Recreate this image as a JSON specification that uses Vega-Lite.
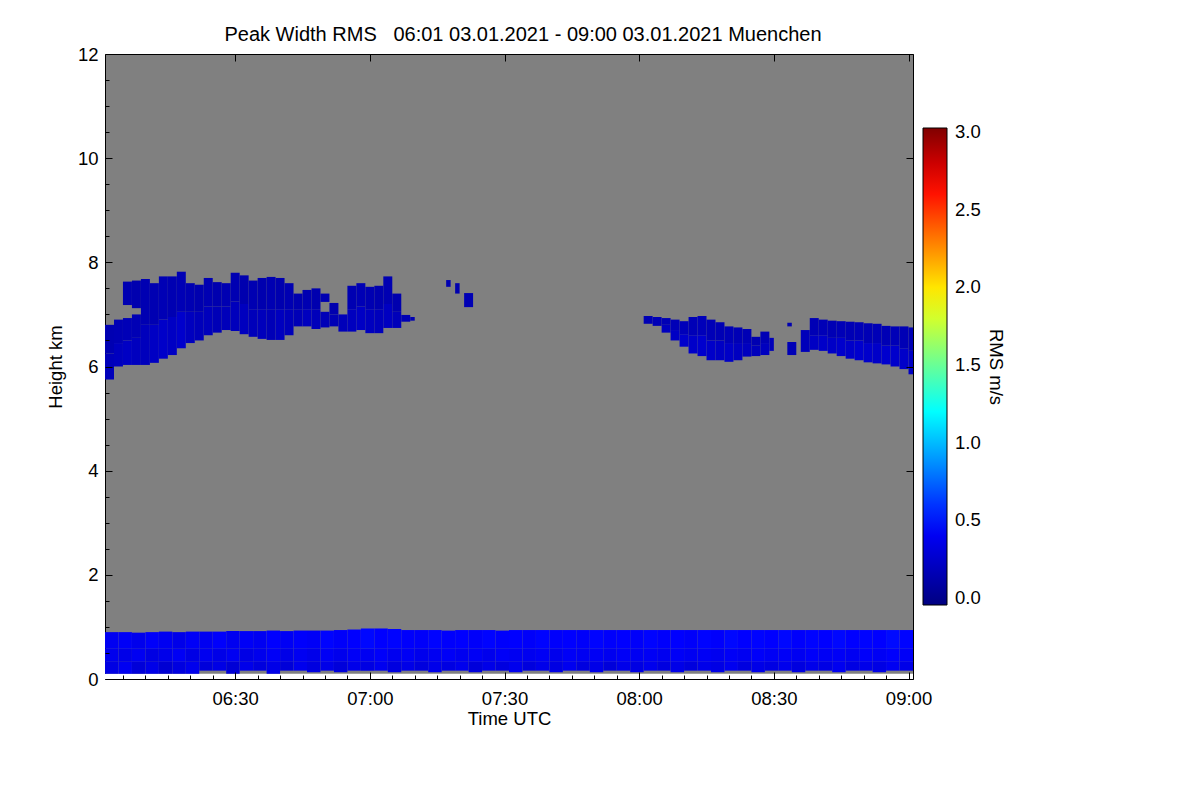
{
  "$schema": "https://vega.github.io/schema/vega-lite/v6.json",
  "autosize": "none",
  "width": 808,
  "height": 625,
  "padding": {"left": 105, "top": 54, "right": 287, "bottom": 121},
  "background": "white",
  "title": {
    "text": "Peak Width RMS\u00a0\u00a0 06:01 03.01.2021 - 09:00 03.01.2021 Muenchen",
    "fontSize": 20, "fontWeight": "normal", "color": "black", "offset": 0, "dx": 14
  },
  "layer": [
    {
      "data": {"values": [{"t": "2021-01-03T06:01Z", "t2": "2021-01-03T09:01Z", "h": 0, "h2": 0.1}]},
      "mark": {"type": "rect", "color": "white"},
      "encoding": {
        "x": {"field": "t", "type": "temporal",
          "scale": {"type": "utc", "domain": [{"year": 2021, "month": 1, "date": 3, "hours": 6, "minutes": 1, "utc": true}, {"year": 2021, "month": 1, "date": 3, "hours": 9, "minutes": 1, "utc": true}]},
          "axis": {"orient": "bottom", "labels": false, "title": null, "grid": false, "domain": false, "tickSize": -4, "zindex": 1,
            "values": [
              {"year":2021,"month":1,"date":3,"hours":6,"minutes":5,"utc":true},{"year":2021,"month":1,"date":3,"hours":6,"minutes":10,"utc":true},{"year":2021,"month":1,"date":3,"hours":6,"minutes":15,"utc":true},{"year":2021,"month":1,"date":3,"hours":6,"minutes":20,"utc":true},{"year":2021,"month":1,"date":3,"hours":6,"minutes":25,"utc":true},{"year":2021,"month":1,"date":3,"hours":6,"minutes":35,"utc":true},{"year":2021,"month":1,"date":3,"hours":6,"minutes":40,"utc":true},{"year":2021,"month":1,"date":3,"hours":6,"minutes":45,"utc":true},{"year":2021,"month":1,"date":3,"hours":6,"minutes":50,"utc":true},{"year":2021,"month":1,"date":3,"hours":6,"minutes":55,"utc":true},
              {"year":2021,"month":1,"date":3,"hours":7,"minutes":5,"utc":true},{"year":2021,"month":1,"date":3,"hours":7,"minutes":10,"utc":true},{"year":2021,"month":1,"date":3,"hours":7,"minutes":15,"utc":true},{"year":2021,"month":1,"date":3,"hours":7,"minutes":20,"utc":true},{"year":2021,"month":1,"date":3,"hours":7,"minutes":25,"utc":true},{"year":2021,"month":1,"date":3,"hours":7,"minutes":35,"utc":true},{"year":2021,"month":1,"date":3,"hours":7,"minutes":40,"utc":true},{"year":2021,"month":1,"date":3,"hours":7,"minutes":45,"utc":true},{"year":2021,"month":1,"date":3,"hours":7,"minutes":50,"utc":true},{"year":2021,"month":1,"date":3,"hours":7,"minutes":55,"utc":true},
              {"year":2021,"month":1,"date":3,"hours":8,"minutes":5,"utc":true},{"year":2021,"month":1,"date":3,"hours":8,"minutes":10,"utc":true},{"year":2021,"month":1,"date":3,"hours":8,"minutes":15,"utc":true},{"year":2021,"month":1,"date":3,"hours":8,"minutes":20,"utc":true},{"year":2021,"month":1,"date":3,"hours":8,"minutes":25,"utc":true},{"year":2021,"month":1,"date":3,"hours":8,"minutes":35,"utc":true},{"year":2021,"month":1,"date":3,"hours":8,"minutes":40,"utc":true},{"year":2021,"month":1,"date":3,"hours":8,"minutes":45,"utc":true},{"year":2021,"month":1,"date":3,"hours":8,"minutes":50,"utc":true},{"year":2021,"month":1,"date":3,"hours":8,"minutes":55,"utc":true}
            ]}},
        "x2": {"field": "t2"},
        "y": {"field": "h", "type": "quantitative", "scale": {"domain": [0, 12], "nice": false, "zero": false},
          "axis": {"orient": "left", "labels": false, "title": null, "grid": false, "domain": false, "tickSize": -4, "zindex": 1,
            "values": [0.5, 1, 1.5, 2.5, 3, 3.5, 4.5, 5, 5.5, 6.5, 7, 7.5, 8.5, 9, 9.5, 10.5, 11, 11.5]}},
        "y2": {"field": "h2"}
      }
    },
    {
      "data": {"values": [
        {"t":"2021-01-03T06:01Z","t2":"2021-01-03T06:04Z","h":0.1,"h2":0.33,"v":0.34},{"t":"2021-01-03T06:01Z","t2":"2021-01-03T06:04Z","h":0.33,"h2":0.58,"v":0.38},{"t":"2021-01-03T06:01Z","t2":"2021-01-03T06:04Z","h":0.58,"h2":0.9,"v":0.4},
        {"t":"2021-01-03T06:04Z","t2":"2021-01-03T06:07Z","h":0.1,"h2":0.33,"v":0.4},{"t":"2021-01-03T06:04Z","t2":"2021-01-03T06:07Z","h":0.33,"h2":0.58,"v":0.36},{"t":"2021-01-03T06:04Z","t2":"2021-01-03T06:07Z","h":0.58,"h2":0.9,"v":0.42},
        {"t":"2021-01-03T06:07Z","t2":"2021-01-03T06:10Z","h":0.1,"h2":0.33,"v":0.3},{"t":"2021-01-03T06:07Z","t2":"2021-01-03T06:10Z","h":0.33,"h2":0.58,"v":0.4},{"t":"2021-01-03T06:07Z","t2":"2021-01-03T06:10Z","h":0.58,"h2":0.89,"v":0.38},
        {"t":"2021-01-03T06:10Z","t2":"2021-01-03T06:13Z","h":0.1,"h2":0.33,"v":0.36},{"t":"2021-01-03T06:10Z","t2":"2021-01-03T06:13Z","h":0.33,"h2":0.58,"v":0.34},{"t":"2021-01-03T06:10Z","t2":"2021-01-03T06:13Z","h":0.58,"h2":0.9,"v":0.43},
        {"t":"2021-01-03T06:13Z","t2":"2021-01-03T06:16Z","h":0.1,"h2":0.33,"v":0.28},{"t":"2021-01-03T06:13Z","t2":"2021-01-03T06:16Z","h":0.33,"h2":0.58,"v":0.37},{"t":"2021-01-03T06:13Z","t2":"2021-01-03T06:16Z","h":0.58,"h2":0.91,"v":0.4},
        {"t":"2021-01-03T06:16Z","t2":"2021-01-03T06:19Z","h":0.1,"h2":0.33,"v":0.33},{"t":"2021-01-03T06:16Z","t2":"2021-01-03T06:19Z","h":0.33,"h2":0.58,"v":0.41},{"t":"2021-01-03T06:16Z","t2":"2021-01-03T06:19Z","h":0.58,"h2":0.9,"v":0.37},
        {"t":"2021-01-03T06:19Z","t2":"2021-01-03T06:22Z","h":0.1,"h2":0.33,"v":0.38},{"t":"2021-01-03T06:19Z","t2":"2021-01-03T06:22Z","h":0.33,"h2":0.58,"v":0.35},{"t":"2021-01-03T06:19Z","t2":"2021-01-03T06:22Z","h":0.58,"h2":0.91,"v":0.42},
        {"t":"2021-01-03T06:22Z","t2":"2021-01-03T06:25Z","h":0.16,"h2":0.33,"v":0.31},{"t":"2021-01-03T06:22Z","t2":"2021-01-03T06:25Z","h":0.33,"h2":0.58,"v":0.39},{"t":"2021-01-03T06:22Z","t2":"2021-01-03T06:25Z","h":0.58,"h2":0.91,"v":0.4},
        {"t":"2021-01-03T06:25Z","t2":"2021-01-03T06:28Z","h":0.16,"h2":0.33,"v":0.35},{"t":"2021-01-03T06:25Z","t2":"2021-01-03T06:28Z","h":0.33,"h2":0.58,"v":0.36},{"t":"2021-01-03T06:25Z","t2":"2021-01-03T06:28Z","h":0.58,"h2":0.91,"v":0.44},
        {"t":"2021-01-03T06:28Z","t2":"2021-01-03T06:31Z","h":0.1,"h2":0.33,"v":0.29},{"t":"2021-01-03T06:28Z","t2":"2021-01-03T06:31Z","h":0.33,"h2":0.58,"v":0.4},{"t":"2021-01-03T06:28Z","t2":"2021-01-03T06:31Z","h":0.58,"h2":0.92,"v":0.39},
        {"t":"2021-01-03T06:31Z","t2":"2021-01-03T06:34Z","h":0.16,"h2":0.33,"v":0.37},{"t":"2021-01-03T06:31Z","t2":"2021-01-03T06:34Z","h":0.33,"h2":0.58,"v":0.35},{"t":"2021-01-03T06:31Z","t2":"2021-01-03T06:34Z","h":0.58,"h2":0.92,"v":0.42},
        {"t":"2021-01-03T06:34Z","t2":"2021-01-03T06:37Z","h":0.16,"h2":0.33,"v":0.32},{"t":"2021-01-03T06:34Z","t2":"2021-01-03T06:37Z","h":0.33,"h2":0.58,"v":0.38},{"t":"2021-01-03T06:34Z","t2":"2021-01-03T06:37Z","h":0.58,"h2":0.92,"v":0.4},
        {"t":"2021-01-03T06:37Z","t2":"2021-01-03T06:40Z","h":0.1,"h2":0.33,"v":0.36},{"t":"2021-01-03T06:37Z","t2":"2021-01-03T06:40Z","h":0.33,"h2":0.58,"v":0.42},{"t":"2021-01-03T06:37Z","t2":"2021-01-03T06:40Z","h":0.58,"h2":0.93,"v":0.45},
        {"t":"2021-01-03T06:40Z","t2":"2021-01-03T06:43Z","h":0.16,"h2":0.33,"v":0.3},{"t":"2021-01-03T06:40Z","t2":"2021-01-03T06:43Z","h":0.33,"h2":0.58,"v":0.36},{"t":"2021-01-03T06:40Z","t2":"2021-01-03T06:43Z","h":0.58,"h2":0.92,"v":0.41},
        {"t":"2021-01-03T06:43Z","t2":"2021-01-03T06:46Z","h":0.16,"h2":0.33,"v":0.38},{"t":"2021-01-03T06:43Z","t2":"2021-01-03T06:46Z","h":0.33,"h2":0.58,"v":0.4},{"t":"2021-01-03T06:43Z","t2":"2021-01-03T06:46Z","h":0.58,"h2":0.93,"v":0.44},
        {"t":"2021-01-03T06:46Z","t2":"2021-01-03T06:49Z","h":0.13,"h2":0.33,"v":0.33},{"t":"2021-01-03T06:46Z","t2":"2021-01-03T06:49Z","h":0.33,"h2":0.58,"v":0.37},{"t":"2021-01-03T06:46Z","t2":"2021-01-03T06:49Z","h":0.58,"h2":0.93,"v":0.42},
        {"t":"2021-01-03T06:49Z","t2":"2021-01-03T06:52Z","h":0.16,"h2":0.33,"v":0.36},{"t":"2021-01-03T06:49Z","t2":"2021-01-03T06:52Z","h":0.33,"h2":0.58,"v":0.41},{"t":"2021-01-03T06:49Z","t2":"2021-01-03T06:52Z","h":0.58,"h2":0.93,"v":0.46},
        {"t":"2021-01-03T06:52Z","t2":"2021-01-03T06:55Z","h":0.13,"h2":0.33,"v":0.31},{"t":"2021-01-03T06:52Z","t2":"2021-01-03T06:55Z","h":0.33,"h2":0.58,"v":0.38},{"t":"2021-01-03T06:52Z","t2":"2021-01-03T06:55Z","h":0.58,"h2":0.94,"v":0.43},
        {"t":"2021-01-03T06:55Z","t2":"2021-01-03T06:58Z","h":0.16,"h2":0.33,"v":0.37},{"t":"2021-01-03T06:55Z","t2":"2021-01-03T06:58Z","h":0.33,"h2":0.58,"v":0.42},{"t":"2021-01-03T06:55Z","t2":"2021-01-03T06:58Z","h":0.58,"h2":0.95,"v":0.45},
        {"t":"2021-01-03T06:58Z","t2":"2021-01-03T07:01Z","h":0.16,"h2":0.33,"v":0.34},{"t":"2021-01-03T06:58Z","t2":"2021-01-03T07:01Z","h":0.33,"h2":0.58,"v":0.4},{"t":"2021-01-03T06:58Z","t2":"2021-01-03T07:01Z","h":0.58,"h2":0.97,"v":0.47},
        {"t":"2021-01-03T07:01Z","t2":"2021-01-03T07:04Z","h":0.16,"h2":0.33,"v":0.39},{"t":"2021-01-03T07:01Z","t2":"2021-01-03T07:04Z","h":0.33,"h2":0.58,"v":0.43},{"t":"2021-01-03T07:01Z","t2":"2021-01-03T07:04Z","h":0.58,"h2":0.97,"v":0.45},
        {"t":"2021-01-03T07:04Z","t2":"2021-01-03T07:07Z","h":0.13,"h2":0.33,"v":0.33},{"t":"2021-01-03T07:04Z","t2":"2021-01-03T07:07Z","h":0.33,"h2":0.58,"v":0.39},{"t":"2021-01-03T07:04Z","t2":"2021-01-03T07:07Z","h":0.58,"h2":0.96,"v":0.46},
        {"t":"2021-01-03T07:07Z","t2":"2021-01-03T07:10Z","h":0.16,"h2":0.33,"v":0.36},{"t":"2021-01-03T07:07Z","t2":"2021-01-03T07:10Z","h":0.33,"h2":0.58,"v":0.41},{"t":"2021-01-03T07:07Z","t2":"2021-01-03T07:10Z","h":0.58,"h2":0.94,"v":0.44},
        {"t":"2021-01-03T07:10Z","t2":"2021-01-03T07:13Z","h":0.16,"h2":0.33,"v":0.32},{"t":"2021-01-03T07:10Z","t2":"2021-01-03T07:13Z","h":0.33,"h2":0.58,"v":0.38},{"t":"2021-01-03T07:10Z","t2":"2021-01-03T07:13Z","h":0.58,"h2":0.94,"v":0.43},
        {"t":"2021-01-03T07:13Z","t2":"2021-01-03T07:16Z","h":0.13,"h2":0.33,"v":0.37},{"t":"2021-01-03T07:13Z","t2":"2021-01-03T07:16Z","h":0.33,"h2":0.58,"v":0.4},{"t":"2021-01-03T07:13Z","t2":"2021-01-03T07:16Z","h":0.58,"h2":0.94,"v":0.46},
        {"t":"2021-01-03T07:16Z","t2":"2021-01-03T07:19Z","h":0.16,"h2":0.33,"v":0.34},{"t":"2021-01-03T07:16Z","t2":"2021-01-03T07:19Z","h":0.33,"h2":0.58,"v":0.42},{"t":"2021-01-03T07:16Z","t2":"2021-01-03T07:19Z","h":0.58,"h2":0.93,"v":0.44},
        {"t":"2021-01-03T07:19Z","t2":"2021-01-03T07:22Z","h":0.16,"h2":0.33,"v":0.38},{"t":"2021-01-03T07:19Z","t2":"2021-01-03T07:22Z","h":0.33,"h2":0.58,"v":0.39},{"t":"2021-01-03T07:19Z","t2":"2021-01-03T07:22Z","h":0.58,"h2":0.94,"v":0.45},
        {"t":"2021-01-03T07:22Z","t2":"2021-01-03T07:25Z","h":0.13,"h2":0.33,"v":0.31},{"t":"2021-01-03T07:22Z","t2":"2021-01-03T07:25Z","h":0.33,"h2":0.58,"v":0.41},{"t":"2021-01-03T07:22Z","t2":"2021-01-03T07:25Z","h":0.58,"h2":0.94,"v":0.43},
        {"t":"2021-01-03T07:25Z","t2":"2021-01-03T07:28Z","h":0.16,"h2":0.33,"v":0.36},{"t":"2021-01-03T07:25Z","t2":"2021-01-03T07:28Z","h":0.33,"h2":0.58,"v":0.38},{"t":"2021-01-03T07:25Z","t2":"2021-01-03T07:28Z","h":0.58,"h2":0.94,"v":0.46},
        {"t":"2021-01-03T07:28Z","t2":"2021-01-03T07:31Z","h":0.16,"h2":0.33,"v":0.33},{"t":"2021-01-03T07:28Z","t2":"2021-01-03T07:31Z","h":0.33,"h2":0.58,"v":0.42},{"t":"2021-01-03T07:28Z","t2":"2021-01-03T07:31Z","h":0.58,"h2":0.93,"v":0.44},
        {"t":"2021-01-03T07:31Z","t2":"2021-01-03T07:34Z","h":0.13,"h2":0.33,"v":0.38},{"t":"2021-01-03T07:31Z","t2":"2021-01-03T07:34Z","h":0.33,"h2":0.58,"v":0.4},{"t":"2021-01-03T07:31Z","t2":"2021-01-03T07:34Z","h":0.58,"h2":0.94,"v":0.45},
        {"t":"2021-01-03T07:34Z","t2":"2021-01-03T07:37Z","h":0.16,"h2":0.33,"v":0.32},{"t":"2021-01-03T07:34Z","t2":"2021-01-03T07:37Z","h":0.33,"h2":0.58,"v":0.39},{"t":"2021-01-03T07:34Z","t2":"2021-01-03T07:37Z","h":0.58,"h2":0.94,"v":0.43},
        {"t":"2021-01-03T07:37Z","t2":"2021-01-03T07:40Z","h":0.16,"h2":0.33,"v":0.37},{"t":"2021-01-03T07:37Z","t2":"2021-01-03T07:40Z","h":0.33,"h2":0.58,"v":0.41},{"t":"2021-01-03T07:37Z","t2":"2021-01-03T07:40Z","h":0.58,"h2":0.94,"v":0.46},
        {"t":"2021-01-03T07:40Z","t2":"2021-01-03T07:43Z","h":0.13,"h2":0.33,"v":0.34},{"t":"2021-01-03T07:40Z","t2":"2021-01-03T07:43Z","h":0.33,"h2":0.58,"v":0.38},{"t":"2021-01-03T07:40Z","t2":"2021-01-03T07:43Z","h":0.58,"h2":0.94,"v":0.44},
        {"t":"2021-01-03T07:43Z","t2":"2021-01-03T07:46Z","h":0.16,"h2":0.33,"v":0.39},{"t":"2021-01-03T07:43Z","t2":"2021-01-03T07:46Z","h":0.33,"h2":0.58,"v":0.42},{"t":"2021-01-03T07:43Z","t2":"2021-01-03T07:46Z","h":0.58,"h2":0.94,"v":0.45},
        {"t":"2021-01-03T07:46Z","t2":"2021-01-03T07:49Z","h":0.16,"h2":0.33,"v":0.33},{"t":"2021-01-03T07:46Z","t2":"2021-01-03T07:49Z","h":0.33,"h2":0.58,"v":0.4},{"t":"2021-01-03T07:46Z","t2":"2021-01-03T07:49Z","h":0.58,"h2":0.94,"v":0.43},
        {"t":"2021-01-03T07:49Z","t2":"2021-01-03T07:52Z","h":0.13,"h2":0.33,"v":0.36},{"t":"2021-01-03T07:49Z","t2":"2021-01-03T07:52Z","h":0.33,"h2":0.58,"v":0.41},{"t":"2021-01-03T07:49Z","t2":"2021-01-03T07:52Z","h":0.58,"h2":0.94,"v":0.46},
        {"t":"2021-01-03T07:52Z","t2":"2021-01-03T07:55Z","h":0.16,"h2":0.33,"v":0.31},{"t":"2021-01-03T07:52Z","t2":"2021-01-03T07:55Z","h":0.33,"h2":0.58,"v":0.39},{"t":"2021-01-03T07:52Z","t2":"2021-01-03T07:55Z","h":0.58,"h2":0.94,"v":0.44},
        {"t":"2021-01-03T07:55Z","t2":"2021-01-03T07:58Z","h":0.16,"h2":0.33,"v":0.37},{"t":"2021-01-03T07:55Z","t2":"2021-01-03T07:58Z","h":0.33,"h2":0.58,"v":0.42},{"t":"2021-01-03T07:55Z","t2":"2021-01-03T07:58Z","h":0.58,"h2":0.94,"v":0.45},
        {"t":"2021-01-03T07:58Z","t2":"2021-01-03T08:01Z","h":0.13,"h2":0.33,"v":0.34},{"t":"2021-01-03T07:58Z","t2":"2021-01-03T08:01Z","h":0.33,"h2":0.58,"v":0.4},{"t":"2021-01-03T07:58Z","t2":"2021-01-03T08:01Z","h":0.58,"h2":0.94,"v":0.43},
        {"t":"2021-01-03T08:01Z","t2":"2021-01-03T08:04Z","h":0.16,"h2":0.33,"v":0.38},{"t":"2021-01-03T08:01Z","t2":"2021-01-03T08:04Z","h":0.33,"h2":0.58,"v":0.41},{"t":"2021-01-03T08:01Z","t2":"2021-01-03T08:04Z","h":0.58,"h2":0.94,"v":0.46},
        {"t":"2021-01-03T08:04Z","t2":"2021-01-03T08:07Z","h":0.16,"h2":0.33,"v":0.33},{"t":"2021-01-03T08:04Z","t2":"2021-01-03T08:07Z","h":0.33,"h2":0.58,"v":0.39},{"t":"2021-01-03T08:04Z","t2":"2021-01-03T08:07Z","h":0.58,"h2":0.94,"v":0.44},
        {"t":"2021-01-03T08:07Z","t2":"2021-01-03T08:10Z","h":0.13,"h2":0.33,"v":0.36},{"t":"2021-01-03T08:07Z","t2":"2021-01-03T08:10Z","h":0.33,"h2":0.58,"v":0.42},{"t":"2021-01-03T08:07Z","t2":"2021-01-03T08:10Z","h":0.58,"h2":0.94,"v":0.45},
        {"t":"2021-01-03T08:10Z","t2":"2021-01-03T08:13Z","h":0.16,"h2":0.33,"v":0.32},{"t":"2021-01-03T08:10Z","t2":"2021-01-03T08:13Z","h":0.33,"h2":0.58,"v":0.4},{"t":"2021-01-03T08:10Z","t2":"2021-01-03T08:13Z","h":0.58,"h2":0.94,"v":0.43},
        {"t":"2021-01-03T08:13Z","t2":"2021-01-03T08:16Z","h":0.16,"h2":0.33,"v":0.37},{"t":"2021-01-03T08:13Z","t2":"2021-01-03T08:16Z","h":0.33,"h2":0.58,"v":0.41},{"t":"2021-01-03T08:13Z","t2":"2021-01-03T08:16Z","h":0.58,"h2":0.94,"v":0.46},
        {"t":"2021-01-03T08:16Z","t2":"2021-01-03T08:19Z","h":0.13,"h2":0.33,"v":0.35},{"t":"2021-01-03T08:16Z","t2":"2021-01-03T08:19Z","h":0.33,"h2":0.58,"v":0.39},{"t":"2021-01-03T08:16Z","t2":"2021-01-03T08:19Z","h":0.58,"h2":0.94,"v":0.44},
        {"t":"2021-01-03T08:19Z","t2":"2021-01-03T08:22Z","h":0.16,"h2":0.33,"v":0.39},{"t":"2021-01-03T08:19Z","t2":"2021-01-03T08:22Z","h":0.33,"h2":0.58,"v":0.42},{"t":"2021-01-03T08:19Z","t2":"2021-01-03T08:22Z","h":0.58,"h2":0.94,"v":0.47},
        {"t":"2021-01-03T08:22Z","t2":"2021-01-03T08:25Z","h":0.16,"h2":0.33,"v":0.33},{"t":"2021-01-03T08:22Z","t2":"2021-01-03T08:25Z","h":0.33,"h2":0.58,"v":0.4},{"t":"2021-01-03T08:22Z","t2":"2021-01-03T08:25Z","h":0.58,"h2":0.94,"v":0.45},
        {"t":"2021-01-03T08:25Z","t2":"2021-01-03T08:28Z","h":0.13,"h2":0.33,"v":0.36},{"t":"2021-01-03T08:25Z","t2":"2021-01-03T08:28Z","h":0.33,"h2":0.58,"v":0.43},{"t":"2021-01-03T08:25Z","t2":"2021-01-03T08:28Z","h":0.58,"h2":0.94,"v":0.46},
        {"t":"2021-01-03T08:28Z","t2":"2021-01-03T08:31Z","h":0.16,"h2":0.33,"v":0.34},{"t":"2021-01-03T08:28Z","t2":"2021-01-03T08:31Z","h":0.33,"h2":0.58,"v":0.41},{"t":"2021-01-03T08:28Z","t2":"2021-01-03T08:31Z","h":0.58,"h2":0.94,"v":0.45},
        {"t":"2021-01-03T08:31Z","t2":"2021-01-03T08:34Z","h":0.16,"h2":0.33,"v":0.38},{"t":"2021-01-03T08:31Z","t2":"2021-01-03T08:34Z","h":0.33,"h2":0.58,"v":0.42},{"t":"2021-01-03T08:31Z","t2":"2021-01-03T08:34Z","h":0.58,"h2":0.94,"v":0.47},
        {"t":"2021-01-03T08:34Z","t2":"2021-01-03T08:37Z","h":0.13,"h2":0.33,"v":0.33},{"t":"2021-01-03T08:34Z","t2":"2021-01-03T08:37Z","h":0.33,"h2":0.58,"v":0.4},{"t":"2021-01-03T08:34Z","t2":"2021-01-03T08:37Z","h":0.58,"h2":0.94,"v":0.44},
        {"t":"2021-01-03T08:37Z","t2":"2021-01-03T08:40Z","h":0.16,"h2":0.33,"v":0.37},{"t":"2021-01-03T08:37Z","t2":"2021-01-03T08:40Z","h":0.33,"h2":0.58,"v":0.43},{"t":"2021-01-03T08:37Z","t2":"2021-01-03T08:40Z","h":0.58,"h2":0.94,"v":0.46},
        {"t":"2021-01-03T08:40Z","t2":"2021-01-03T08:43Z","h":0.16,"h2":0.33,"v":0.35},{"t":"2021-01-03T08:40Z","t2":"2021-01-03T08:43Z","h":0.33,"h2":0.58,"v":0.41},{"t":"2021-01-03T08:40Z","t2":"2021-01-03T08:43Z","h":0.58,"h2":0.94,"v":0.45},
        {"t":"2021-01-03T08:43Z","t2":"2021-01-03T08:46Z","h":0.13,"h2":0.33,"v":0.39},{"t":"2021-01-03T08:43Z","t2":"2021-01-03T08:46Z","h":0.33,"h2":0.58,"v":0.42},{"t":"2021-01-03T08:43Z","t2":"2021-01-03T08:46Z","h":0.58,"h2":0.94,"v":0.47},
        {"t":"2021-01-03T08:46Z","t2":"2021-01-03T08:49Z","h":0.16,"h2":0.33,"v":0.34},{"t":"2021-01-03T08:46Z","t2":"2021-01-03T08:49Z","h":0.33,"h2":0.58,"v":0.4},{"t":"2021-01-03T08:46Z","t2":"2021-01-03T08:49Z","h":0.58,"h2":0.94,"v":0.45},
        {"t":"2021-01-03T08:49Z","t2":"2021-01-03T08:52Z","h":0.16,"h2":0.33,"v":0.37},{"t":"2021-01-03T08:49Z","t2":"2021-01-03T08:52Z","h":0.33,"h2":0.58,"v":0.43},{"t":"2021-01-03T08:49Z","t2":"2021-01-03T08:52Z","h":0.58,"h2":0.94,"v":0.46},
        {"t":"2021-01-03T08:52Z","t2":"2021-01-03T08:55Z","h":0.13,"h2":0.33,"v":0.35},{"t":"2021-01-03T08:52Z","t2":"2021-01-03T08:55Z","h":0.33,"h2":0.58,"v":0.41},{"t":"2021-01-03T08:52Z","t2":"2021-01-03T08:55Z","h":0.58,"h2":0.94,"v":0.45},
        {"t":"2021-01-03T08:55Z","t2":"2021-01-03T08:58Z","h":0.16,"h2":0.33,"v":0.4},{"t":"2021-01-03T08:55Z","t2":"2021-01-03T08:58Z","h":0.33,"h2":0.58,"v":0.44},{"t":"2021-01-03T08:55Z","t2":"2021-01-03T08:58Z","h":0.58,"h2":0.94,"v":0.48},
        {"t":"2021-01-03T08:58Z","t2":"2021-01-03T09:01Z","h":0.16,"h2":0.33,"v":0.36},{"t":"2021-01-03T08:58Z","t2":"2021-01-03T09:01Z","h":0.33,"h2":0.58,"v":0.42},{"t":"2021-01-03T08:58Z","t2":"2021-01-03T09:01Z","h":0.58,"h2":0.94,"v":0.46},

        {"t":"2021-01-03T06:01Z","t2":"2021-01-03T06:03Z","h":5.75,"h2":6.25,"v":0.18},{"t":"2021-01-03T06:01Z","t2":"2021-01-03T06:03Z","h":6.25,"h2":6.8,"v":0.15},
        {"t":"2021-01-03T06:03Z","t2":"2021-01-03T06:05Z","h":6.0,"h2":6.45,"v":0.2},{"t":"2021-01-03T06:03Z","t2":"2021-01-03T06:05Z","h":6.45,"h2":6.9,"v":0.16},
        {"t":"2021-01-03T06:05Z","t2":"2021-01-03T06:07Z","h":6.03,"h2":6.5,"v":0.22},{"t":"2021-01-03T06:05Z","t2":"2021-01-03T06:07Z","h":6.5,"h2":6.93,"v":0.17},{"t":"2021-01-03T06:05Z","t2":"2021-01-03T06:07Z","h":7.18,"h2":7.63,"v":0.15},
        {"t":"2021-01-03T06:07Z","t2":"2021-01-03T06:09Z","h":6.03,"h2":6.55,"v":0.2},{"t":"2021-01-03T06:07Z","t2":"2021-01-03T06:09Z","h":6.55,"h2":7.0,"v":0.16},{"t":"2021-01-03T06:07Z","t2":"2021-01-03T06:09Z","h":7.12,"h2":7.65,"v":0.14},
        {"t":"2021-01-03T06:09Z","t2":"2021-01-03T06:11Z","h":6.03,"h2":6.8,"v":0.19},{"t":"2021-01-03T06:09Z","t2":"2021-01-03T06:11Z","h":6.8,"h2":7.68,"v":0.15},
        {"t":"2021-01-03T06:11Z","t2":"2021-01-03T06:13Z","h":6.07,"h2":6.8,"v":0.22},{"t":"2021-01-03T06:11Z","t2":"2021-01-03T06:13Z","h":6.8,"h2":7.6,"v":0.15},
        {"t":"2021-01-03T06:13Z","t2":"2021-01-03T06:15Z","h":6.15,"h2":6.9,"v":0.24},{"t":"2021-01-03T06:13Z","t2":"2021-01-03T06:15Z","h":6.9,"h2":7.73,"v":0.16},
        {"t":"2021-01-03T06:15Z","t2":"2021-01-03T06:17Z","h":6.22,"h2":6.95,"v":0.22},{"t":"2021-01-03T06:15Z","t2":"2021-01-03T06:17Z","h":6.95,"h2":7.73,"v":0.15},
        {"t":"2021-01-03T06:17Z","t2":"2021-01-03T06:19Z","h":6.35,"h2":7.05,"v":0.25},{"t":"2021-01-03T06:17Z","t2":"2021-01-03T06:19Z","h":7.05,"h2":7.82,"v":0.16},
        {"t":"2021-01-03T06:19Z","t2":"2021-01-03T06:21Z","h":6.45,"h2":7.05,"v":0.2},{"t":"2021-01-03T06:19Z","t2":"2021-01-03T06:21Z","h":7.05,"h2":7.6,"v":0.15},
        {"t":"2021-01-03T06:21Z","t2":"2021-01-03T06:23Z","h":6.5,"h2":7.05,"v":0.18},{"t":"2021-01-03T06:21Z","t2":"2021-01-03T06:23Z","h":7.05,"h2":7.57,"v":0.14},
        {"t":"2021-01-03T06:23Z","t2":"2021-01-03T06:25Z","h":6.6,"h2":7.15,"v":0.19},{"t":"2021-01-03T06:23Z","t2":"2021-01-03T06:25Z","h":7.15,"h2":7.7,"v":0.15},
        {"t":"2021-01-03T06:25Z","t2":"2021-01-03T06:27Z","h":6.65,"h2":7.15,"v":0.17},{"t":"2021-01-03T06:25Z","t2":"2021-01-03T06:27Z","h":7.15,"h2":7.62,"v":0.14},
        {"t":"2021-01-03T06:27Z","t2":"2021-01-03T06:29Z","h":6.7,"h2":7.15,"v":0.18},{"t":"2021-01-03T06:27Z","t2":"2021-01-03T06:29Z","h":7.15,"h2":7.6,"v":0.15},
        {"t":"2021-01-03T06:29Z","t2":"2021-01-03T06:31Z","h":6.68,"h2":7.25,"v":0.19},{"t":"2021-01-03T06:29Z","t2":"2021-01-03T06:31Z","h":7.25,"h2":7.8,"v":0.15},
        {"t":"2021-01-03T06:31Z","t2":"2021-01-03T06:33Z","h":6.62,"h2":7.2,"v":0.2},{"t":"2021-01-03T06:31Z","t2":"2021-01-03T06:33Z","h":7.2,"h2":7.75,"v":0.14},
        {"t":"2021-01-03T06:33Z","t2":"2021-01-03T06:35Z","h":6.57,"h2":7.1,"v":0.18},{"t":"2021-01-03T06:33Z","t2":"2021-01-03T06:35Z","h":7.1,"h2":7.65,"v":0.15},
        {"t":"2021-01-03T06:35Z","t2":"2021-01-03T06:37Z","h":6.53,"h2":7.1,"v":0.19},{"t":"2021-01-03T06:35Z","t2":"2021-01-03T06:37Z","h":7.1,"h2":7.7,"v":0.14},
        {"t":"2021-01-03T06:37Z","t2":"2021-01-03T06:39Z","h":6.51,"h2":7.1,"v":0.17},{"t":"2021-01-03T06:37Z","t2":"2021-01-03T06:39Z","h":7.1,"h2":7.72,"v":0.15},
        {"t":"2021-01-03T06:39Z","t2":"2021-01-03T06:41Z","h":6.51,"h2":7.1,"v":0.2},{"t":"2021-01-03T06:39Z","t2":"2021-01-03T06:41Z","h":7.1,"h2":7.7,"v":0.14},
        {"t":"2021-01-03T06:41Z","t2":"2021-01-03T06:43Z","h":6.6,"h2":7.1,"v":0.18},{"t":"2021-01-03T06:41Z","t2":"2021-01-03T06:43Z","h":7.1,"h2":7.6,"v":0.15},
        {"t":"2021-01-03T06:43Z","t2":"2021-01-03T06:45Z","h":6.77,"h2":7.1,"v":0.17},{"t":"2021-01-03T06:43Z","t2":"2021-01-03T06:45Z","h":7.1,"h2":7.4,"v":0.14},
        {"t":"2021-01-03T06:45Z","t2":"2021-01-03T06:47Z","h":6.77,"h2":7.1,"v":0.2},{"t":"2021-01-03T06:45Z","t2":"2021-01-03T06:47Z","h":7.1,"h2":7.47,"v":0.15},
        {"t":"2021-01-03T06:47Z","t2":"2021-01-03T06:49Z","h":6.72,"h2":7.1,"v":0.18},{"t":"2021-01-03T06:47Z","t2":"2021-01-03T06:49Z","h":7.1,"h2":7.5,"v":0.14},
        {"t":"2021-01-03T06:49Z","t2":"2021-01-03T06:51Z","h":6.75,"h2":7.05,"v":0.17},{"t":"2021-01-03T06:49Z","t2":"2021-01-03T06:51Z","h":7.24,"h2":7.4,"v":0.15},
        {"t":"2021-01-03T06:51Z","t2":"2021-01-03T06:53Z","h":6.77,"h2":7.0,"v":0.16},{"t":"2021-01-03T06:51Z","t2":"2021-01-03T06:53Z","h":7.0,"h2":7.22,"v":0.14},
        {"t":"2021-01-03T06:53Z","t2":"2021-01-03T06:55Z","h":6.67,"h2":7.0,"v":0.18},
        {"t":"2021-01-03T06:55Z","t2":"2021-01-03T06:57Z","h":6.67,"h2":7.1,"v":0.2},{"t":"2021-01-03T06:55Z","t2":"2021-01-03T06:57Z","h":7.1,"h2":7.55,"v":0.15},
        {"t":"2021-01-03T06:57Z","t2":"2021-01-03T06:59Z","h":6.7,"h2":7.15,"v":0.22},{"t":"2021-01-03T06:57Z","t2":"2021-01-03T06:59Z","h":7.15,"h2":7.6,"v":0.16},
        {"t":"2021-01-03T06:59Z","t2":"2021-01-03T07:01Z","h":6.64,"h2":7.1,"v":0.2},{"t":"2021-01-03T06:59Z","t2":"2021-01-03T07:01Z","h":7.1,"h2":7.53,"v":0.15},
        {"t":"2021-01-03T07:01Z","t2":"2021-01-03T07:03Z","h":6.64,"h2":7.1,"v":0.19},{"t":"2021-01-03T07:01Z","t2":"2021-01-03T07:03Z","h":7.1,"h2":7.55,"v":0.14},
        {"t":"2021-01-03T07:03Z","t2":"2021-01-03T07:05Z","h":6.74,"h2":7.2,"v":0.21},{"t":"2021-01-03T07:03Z","t2":"2021-01-03T07:05Z","h":7.2,"h2":7.73,"v":0.15},
        {"t":"2021-01-03T07:05Z","t2":"2021-01-03T07:07Z","h":6.74,"h2":7.05,"v":0.18},{"t":"2021-01-03T07:05Z","t2":"2021-01-03T07:07Z","h":7.05,"h2":7.4,"v":0.14},
        {"t":"2021-01-03T07:07Z","t2":"2021-01-03T07:09Z","h":6.86,"h2":6.99,"v":0.16},
        {"t":"2021-01-03T07:09Z","t2":"2021-01-03T07:10Z","h":6.88,"h2":6.95,"v":0.15},
        {"t":"2021-01-03T07:17Z","t2":"2021-01-03T07:18Z","h":7.53,"h2":7.66,"v":0.15},
        {"t":"2021-01-03T07:19Z","t2":"2021-01-03T07:20Z","h":7.4,"h2":7.6,"v":0.14},
        {"t":"2021-01-03T07:21Z","t2":"2021-01-03T07:23Z","h":7.14,"h2":7.41,"v":0.16},

        {"t":"2021-01-03T08:01Z","t2":"2021-01-03T08:03Z","h":6.82,"h2":6.97,"v":0.16},
        {"t":"2021-01-03T08:03Z","t2":"2021-01-03T08:05Z","h":6.78,"h2":6.95,"v":0.17},
        {"t":"2021-01-03T08:05Z","t2":"2021-01-03T08:07Z","h":6.65,"h2":6.8,"v":0.2},{"t":"2021-01-03T08:05Z","t2":"2021-01-03T08:07Z","h":6.8,"h2":6.93,"v":0.16},
        {"t":"2021-01-03T08:07Z","t2":"2021-01-03T08:09Z","h":6.5,"h2":6.7,"v":0.22},{"t":"2021-01-03T08:07Z","t2":"2021-01-03T08:09Z","h":6.7,"h2":6.9,"v":0.17},
        {"t":"2021-01-03T08:09Z","t2":"2021-01-03T08:11Z","h":6.38,"h2":6.62,"v":0.25},{"t":"2021-01-03T08:09Z","t2":"2021-01-03T08:11Z","h":6.62,"h2":6.87,"v":0.18},
        {"t":"2021-01-03T08:11Z","t2":"2021-01-03T08:13Z","h":6.25,"h2":6.6,"v":0.24},{"t":"2021-01-03T08:11Z","t2":"2021-01-03T08:13Z","h":6.6,"h2":6.95,"v":0.17},
        {"t":"2021-01-03T08:13Z","t2":"2021-01-03T08:15Z","h":6.2,"h2":6.6,"v":0.26},{"t":"2021-01-03T08:13Z","t2":"2021-01-03T08:15Z","h":6.6,"h2":6.97,"v":0.18},
        {"t":"2021-01-03T08:15Z","t2":"2021-01-03T08:17Z","h":6.12,"h2":6.5,"v":0.24},{"t":"2021-01-03T08:15Z","t2":"2021-01-03T08:17Z","h":6.5,"h2":6.9,"v":0.17},
        {"t":"2021-01-03T08:17Z","t2":"2021-01-03T08:19Z","h":6.12,"h2":6.5,"v":0.22},{"t":"2021-01-03T08:17Z","t2":"2021-01-03T08:19Z","h":6.5,"h2":6.85,"v":0.16},
        {"t":"2021-01-03T08:19Z","t2":"2021-01-03T08:21Z","h":6.09,"h2":6.45,"v":0.23},{"t":"2021-01-03T08:19Z","t2":"2021-01-03T08:21Z","h":6.45,"h2":6.77,"v":0.17},
        {"t":"2021-01-03T08:21Z","t2":"2021-01-03T08:23Z","h":6.12,"h2":6.45,"v":0.21},{"t":"2021-01-03T08:21Z","t2":"2021-01-03T08:23Z","h":6.45,"h2":6.75,"v":0.16},
        {"t":"2021-01-03T08:23Z","t2":"2021-01-03T08:25Z","h":6.19,"h2":6.45,"v":0.2},{"t":"2021-01-03T08:23Z","t2":"2021-01-03T08:25Z","h":6.45,"h2":6.72,"v":0.16},
        {"t":"2021-01-03T08:25Z","t2":"2021-01-03T08:27Z","h":6.2,"h2":6.4,"v":0.19},{"t":"2021-01-03T08:25Z","t2":"2021-01-03T08:27Z","h":6.4,"h2":6.57,"v":0.15},
        {"t":"2021-01-03T08:27Z","t2":"2021-01-03T08:29Z","h":6.22,"h2":6.45,"v":0.2},{"t":"2021-01-03T08:27Z","t2":"2021-01-03T08:29Z","h":6.45,"h2":6.67,"v":0.16},
        {"t":"2021-01-03T08:29Z","t2":"2021-01-03T08:30Z","h":6.3,"h2":6.55,"v":0.18},
        {"t":"2021-01-03T08:33Z","t2":"2021-01-03T08:35Z","h":6.22,"h2":6.47,"v":0.17},
        {"t":"2021-01-03T08:33Z","t2":"2021-01-03T08:34Z","h":6.77,"h2":6.84,"v":0.15},
        {"t":"2021-01-03T08:36Z","t2":"2021-01-03T08:38Z","h":6.28,"h2":6.7,"v":0.18},
        {"t":"2021-01-03T08:38Z","t2":"2021-01-03T08:40Z","h":6.32,"h2":6.6,"v":0.22},{"t":"2021-01-03T08:38Z","t2":"2021-01-03T08:40Z","h":6.6,"h2":6.93,"v":0.16},
        {"t":"2021-01-03T08:40Z","t2":"2021-01-03T08:42Z","h":6.3,"h2":6.6,"v":0.24},{"t":"2021-01-03T08:40Z","t2":"2021-01-03T08:42Z","h":6.6,"h2":6.9,"v":0.17},
        {"t":"2021-01-03T08:42Z","t2":"2021-01-03T08:44Z","h":6.25,"h2":6.55,"v":0.23},{"t":"2021-01-03T08:42Z","t2":"2021-01-03T08:44Z","h":6.55,"h2":6.88,"v":0.16},
        {"t":"2021-01-03T08:44Z","t2":"2021-01-03T08:46Z","h":6.2,"h2":6.55,"v":0.25},{"t":"2021-01-03T08:44Z","t2":"2021-01-03T08:46Z","h":6.55,"h2":6.87,"v":0.17},
        {"t":"2021-01-03T08:46Z","t2":"2021-01-03T08:48Z","h":6.15,"h2":6.5,"v":0.24},{"t":"2021-01-03T08:46Z","t2":"2021-01-03T08:48Z","h":6.5,"h2":6.86,"v":0.16},
        {"t":"2021-01-03T08:48Z","t2":"2021-01-03T08:50Z","h":6.12,"h2":6.5,"v":0.26},{"t":"2021-01-03T08:48Z","t2":"2021-01-03T08:50Z","h":6.5,"h2":6.85,"v":0.17},
        {"t":"2021-01-03T08:50Z","t2":"2021-01-03T08:52Z","h":6.08,"h2":6.45,"v":0.25},{"t":"2021-01-03T08:50Z","t2":"2021-01-03T08:52Z","h":6.45,"h2":6.83,"v":0.16},
        {"t":"2021-01-03T08:52Z","t2":"2021-01-03T08:54Z","h":6.06,"h2":6.45,"v":0.24},{"t":"2021-01-03T08:52Z","t2":"2021-01-03T08:54Z","h":6.45,"h2":6.82,"v":0.17},
        {"t":"2021-01-03T08:54Z","t2":"2021-01-03T08:56Z","h":6.04,"h2":6.4,"v":0.26},{"t":"2021-01-03T08:54Z","t2":"2021-01-03T08:56Z","h":6.4,"h2":6.78,"v":0.16},
        {"t":"2021-01-03T08:56Z","t2":"2021-01-03T08:58Z","h":6.0,"h2":6.4,"v":0.25},{"t":"2021-01-03T08:56Z","t2":"2021-01-03T08:58Z","h":6.4,"h2":6.77,"v":0.17},
        {"t":"2021-01-03T08:58Z","t2":"2021-01-03T09:00Z","h":5.95,"h2":6.35,"v":0.24},{"t":"2021-01-03T08:58Z","t2":"2021-01-03T09:00Z","h":6.35,"h2":6.77,"v":0.16},
        {"t":"2021-01-03T09:00Z","t2":"2021-01-03T09:01Z","h":5.85,"h2":6.3,"v":0.22},{"t":"2021-01-03T09:00Z","t2":"2021-01-03T09:01Z","h":6.3,"h2":6.75,"v":0.16}
      ]},
      "mark": {"type": "rect"},
      "encoding": {
        "x": {"field": "t", "type": "temporal",
          "scale": {"type": "utc", "domain": [{"year": 2021, "month": 1, "date": 3, "hours": 6, "minutes": 1, "utc": true}, {"year": 2021, "month": 1, "date": 3, "hours": 9, "minutes": 1, "utc": true}]},
          "axis": {"orient": "bottom", "format": "%H:%M", "title": "Time UTC", "grid": false, "domain": false, "tickSize": -7, "labelPadding": 17, "titlePadding": 2, "zindex": 1,
            "values": [{"year": 2021, "month": 1, "date": 3, "hours": 6, "minutes": 30, "utc": true}, {"year": 2021, "month": 1, "date": 3, "hours": 7, "minutes": 0, "utc": true}, {"year": 2021, "month": 1, "date": 3, "hours": 7, "minutes": 30, "utc": true}, {"year": 2021, "month": 1, "date": 3, "hours": 8, "minutes": 0, "utc": true}, {"year": 2021, "month": 1, "date": 3, "hours": 8, "minutes": 30, "utc": true}, {"year": 2021, "month": 1, "date": 3, "hours": 9, "minutes": 0, "utc": true}]}},
        "x2": {"field": "t2"},
        "y": {"field": "h", "type": "quantitative", "scale": {"domain": [0, 12], "nice": false, "zero": false},
          "axis": {"orient": "left", "values": [0, 2, 4, 6, 8, 10, 12], "title": "Height km", "grid": false, "domain": false, "tickSize": -7, "labelPadding": 14, "titlePadding": 12, "zindex": 1}},
        "y2": {"field": "h2"},
        "color": {"field": "v", "type": "quantitative",
          "scale": {"type": "linear", "domain": [-0.045, 0.45, 1.2, 1.93, 2.65, 3.026], "range": ["#000080", "#0000ff", "#00ffff", "#ffff00", "#ff0000", "#800000"], "interpolate": "rgb"},
          "legend": {"orient": "none", "legendX": 818, "legendY": 74, "direction": "vertical",
            "gradientLength": 477, "gradientThickness": 24, "gradientStrokeColor": "black", "gradientStrokeWidth": 1,
            "values": [0, 0.5, 1, 1.5, 2, 2.5, 3], "format": ".1f", "labelFontSize": 18.5, "labelOffset": 8, "labelColor": "black",
            "title": "RMS m/s", "titleOrient": "right", "titleAngle": 90, "titleFontSize": 18.5, "titleFontWeight": "normal", "titleColor": "black"}}
      }
    },
    {
      "data": {"values": [{"t": "2021-01-03T06:01Z", "t2": "2021-01-03T09:01Z", "h": 0, "h2": 0.1}]},
      "mark": {"type": "rect", "opacity": 0},
      "encoding": {
        "x": {"field": "t", "type": "temporal",
          "scale": {"type": "utc", "domain": [{"year": 2021, "month": 1, "date": 3, "hours": 6, "minutes": 1, "utc": true}, {"year": 2021, "month": 1, "date": 3, "hours": 9, "minutes": 1, "utc": true}]},
          "axis": {"orient": "top", "labels": false, "title": null, "grid": false, "domain": false, "tickSize": -7, "zindex": 1,
            "values": [{"year": 2021, "month": 1, "date": 3, "hours": 6, "minutes": 30, "utc": true}, {"year": 2021, "month": 1, "date": 3, "hours": 7, "minutes": 0, "utc": true}, {"year": 2021, "month": 1, "date": 3, "hours": 7, "minutes": 30, "utc": true}, {"year": 2021, "month": 1, "date": 3, "hours": 8, "minutes": 0, "utc": true}, {"year": 2021, "month": 1, "date": 3, "hours": 8, "minutes": 30, "utc": true}, {"year": 2021, "month": 1, "date": 3, "hours": 9, "minutes": 0, "utc": true}]}},
        "x2": {"field": "t2"},
        "y": {"field": "h", "type": "quantitative", "scale": {"domain": [0, 12], "nice": false, "zero": false},
          "axis": {"orient": "right", "values": [0, 2, 4, 6, 8, 10, 12], "labels": false, "title": null, "grid": false, "domain": false, "tickSize": -7, "zindex": 1}},
        "y2": {"field": "h2"}
      }
    }
  ],
  "resolve": {"scale": {"x": "independent", "y": "independent"}},
  "config": {
    "font": "Liberation Sans",
    "view": {"fill": "#808080", "stroke": "black", "strokeWidth": 1},
    "axis": {"labelFontSize": 18.5, "titleFontSize": 18.5, "titleFontWeight": "normal", "labelColor": "black", "titleColor": "black", "tickColor": "black"}
  }
}
